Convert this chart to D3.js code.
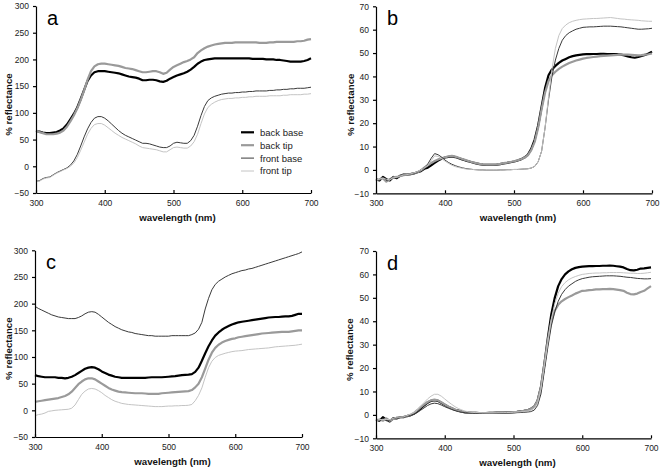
<!DOCTYPE html>
<html><head><meta charset="utf-8">
<script src="https://cdn.jsdelivr.net/npm/d3@7"></script>
<style>
html,body{margin:0;padding:0;background:#fff;}
svg{display:block;font-family:"Liberation Sans",Arial,sans-serif;}
</style></head>
<body>
<svg id="chart" width="662" height="471"></svg>
<script>
// wavelength grid (nm), 300..700 every 5 nm
const wavelengths = d3.range(300, 701, 5);
const xTicks = [300, 400, 500, 600, 700];
const seriesNames = ["back base", "back tip", "front base", "front tip"];

// panel a
const aBackBase = [66,65,63,62,62,63,64,67,71,78, 88,98,110,126,143,160,170,176,178,178, 178,177,176,175,174,172,170,168,167,166, 164,161,161,162,162,161,159,158,160,164, 167,170,172,174,177,181,186,192,196,199, 200,201,202,202,202,202,202,202,202,202, 202,202,202,201,201,201,201,200,200,200, 199,199,198,197,196,196,196,196,197,199, 202];
const aBackTip = [67,64,62,60,60,60,61,63,67,74, 84,95,108,124,142,162,178,187,191,192, 192,191,190,189,188,186,184,183,182,180, 178,176,176,177,178,178,176,173,175,181, 186,189,192,195,197,200,204,212,217,221, 224,226,228,229,230,231,231,231,232,232, 232,232,232,232,232,231,231,231,232,232, 233,233,233,233,233,233,234,234,235,237, 238];
const aFrontBase = [-28,-27,-23,-21,-20,-16,-12,-9,-6,-3, 2,10,22,38,55,70,82,90,93,93, 90,85,79,73,67,62,58,55,52,49, 46,43,43,42,40,38,36,35,35,38, 43,45,44,43,43,48,58,75,95,112, 123,128,131,133,135,136,137,137,138,138, 139,139,140,140,141,141,141,141,142,142, 143,143,144,144,145,145,146,146,146,147, 148];
const aFrontTip = [-28,-28,-24,-22,-21,-17,-13,-10,-7,-4, 0,6,16,30,45,60,71,78,80,80, 77,72,67,62,58,54,51,48,45,42, 38,35,34,33,32,31,29,27,27,31, 35,36,35,34,34,38,46,60,80,98, 110,116,120,123,125,126,127,127,128,128, 129,129,130,130,131,131,131,131,132,132, 132,132,133,133,134,134,134,134,135,135, 136];

// panel b
const bBackBase = [-4,-4.5,-3,-4,-4.5,-3,-3.5,-2.5,-2,-2, -1.8,-1.5,-1,-0.5,0.5,1,2,3,4,4.8, 5.3,5.6,5.8,5.5,5,4.5,4,3.6,3.2,2.8, 2.5,2.3,2.2,2.2,2.2,2.3,2.5,2.8,3,3.3, 3.6,4,4.5,5.3,6.5,9,13,19,27,35, 40.5,43,44.5,45.8,46.8,47.5,48.2,48.7,49,49.2, 49.4,49.5,49.5,49.6,49.6,49.7,49.7,49.6,49.6,49.5, 49.5,49.3,49,48.6,48.2,48,48.3,48.8,49.2,49.8, 50.6];
const bBackTip = [-4.5,-4,-3.5,-5,-4,-3.2,-3,-2.6,-2.2,-2, -1.8,-1.4,-1,-0.2,1,2,3,3.8,4.5,5, 5.4,5.8,6,5.7,5.2,4.7,4.2,3.7,3.3,2.9, 2.6,2.4,2.3,2.3,2.3,2.4,2.6,2.9,3.1,3.4, 3.7,4.1,4.6,5.2,6.2,8.5,12,18,26,33, 38,40.5,42,43.2,44.2,45,45.7,46.3,46.8,47.2, 47.6,47.9,48.1,48.3,48.5,48.7,48.8,48.9,49,49.1, 49.2,49.3,49.3,49.3,49.2,49.1,49,49.1,49.3,49.5, 49.8];
const bFrontBase = [-4,-4.5,-3,-4.5,-4,-3,-3.5,-2.5,-2.2,-2, -1.8,-1.5,-1,0,1,2.5,5,7,6.5,5.5, 4.2,3.2,2.4,1.8,1.3,0.9,0.6,0.4,0.2,0.1, 0,0,-0.1,-0.1,-0.1,-0.1,0,0,0.1,0.1, 0.2,0.2,0.3,0.4,0.5,0.8,1.5,3.5,8,18, 30,40,47,52,55.5,57.5,58.7,59.5,60.2,60.6, 61,61.1,61.2,61.2,61.3,61.4,61.5,61.5,61.5,61.4, 61.3,61.2,61,60.8,60.6,60.4,60.2,60.2,60.3,60.4, 60.6];
const bFrontTip = [-4.2,-4,-3.5,-4,-4.2,-3.2,-3.2,-2.6,-2.2,-2, -1.7,-1.3,-0.8,0,1,2,4,6,5.8,4.8, 3.8,2.8,2,1.4,1,0.7,0.4,0.3,0.2,0.1, 0,0,-0.1,-0.1,-0.1,-0.1,0,0,0.1,0.1, 0.2,0.2,0.3,0.4,0.5,0.8,1.5,3.5,8,18, 31,43,52,57.5,60.5,62,63,63.6,64,64.3, 64.5,64.6,64.7,64.8,64.8,64.9,65,65.1,65.2,65, 64.8,64.6,64.5,64.3,64.2,64.1,64,63.8,63.7,63.6, 63.6];

// panel c
const cBackBase = [66,64,63,62,62,62,62,61,61,60, 61,63,66,70,74,78,80,81,80,77, 73,70,67,65,63,62,61,61,61,61, 61,61,61,61,61.5,62,62,62,62,62.5, 63,63.5,64,65,66,66.5,67,68,72,80, 93,107,120,131,140,146,151,155,158,161, 163,165,166,167,168,169,170,171,172,173, 174,174.5,175,175,175.5,176,176,177,179,181, 181];
const cBackTip = [16,17,18,19,20,21,22,23,25,27, 30,35,42,49,54,58,60,60,58,54, 50,46,42,39,37,35,34,33.5,33,32.5, 32,32,32,31.5,31,31,31,31,32,32.5, 33,33.5,34,34.5,35,35.5,36,38,43,50, 62,78,95,108,117,123,127,130,132,134, 135,137,138,139,140,141,142,143,144,144.5, 145,145.5,146,146.5,147,147,147,148,149,150, 150];
const cFrontBase = [195,191,188,185,182,179,177,175,174,173, 172,172,172,174,177,181,184,185,184,180, 175,170,165,161,157,154,151,149,147,146, 144,143,142,141,140,140,139,139,139,139, 139,140,140,140,140,140,140,142,145,152, 165,190,210,226,236,242,246,250,253,256, 258,260,262,263,265,266,268,270,272,274, 276,278,280,282,284,286,288,290,292,294, 297];
const cFrontTip = [-10,-8,-7,-5,-2,-1,0,0.5,1,1.5, 2,4,10,20,30,36,40,41,40,37, 33,28,24,20,17,15,13,12,11,10.5, 10,9.5,9,8.5,8,7.5,7,7,7,7.5, 8,8,8.5,8.5,9,9,9.5,11,18,28, 42,62,80,92,99,103,105,107,108.5,110, 111,111.5,112,113,114,114.5,115,115.5,116,116.5, 117,118,119,119.5,120,120.5,121,121.5,122,123, 124];

// panel d
const dBackBase = [-2,-2.5,-1,-2,-2.8,-1.5,-1.5,-1,-1,-0.5, -0.2,0.5,1.5,2.8,4,5.2,6,6.3,6,5.2, 4.3,3.5,2.8,2.2,1.8,1.4,1.1,1,0.9,0.85, 0.8,0.8,0.8,0.85,0.9,0.95,1,1,1.1,1.1, 1.2,1.3,1.5,1.7,2,2.5,3.5,6,12,22, 33,43,50,55,58,60,61.3,62.2,62.8,63.1, 63.3,63.4,63.5,63.5,63.6,63.6,63.7,63.7,63.8,63.7, 63.5,63.3,63,62.3,61.8,61.7,62,62.5,62.6,62.8, 63];
const dBackTip = [-2.5,-2,-2.5,-1.5,-2.5,-1.8,-1.2,-1,-0.8,-0.5, 0,0.8,2,3.3,4.5,5.5,6.2,6.5,6.2,5.4, 4.5,3.6,2.9,2.3,1.8,1.4,1.1,1,0.9,0.85, 0.8,0.8,0.8,0.85,0.9,0.95,1,1,1.1,1.1, 1.2,1.3,1.5,1.7,2,2.5,3.5,6,12,22, 32,40,44.5,47,48.5,49.5,50.3,51,51.8,52.4, 53,53.1,53.3,53.4,53.6,53.6,53.7,53.7,53.8,53.7, 53.5,53.3,53,52.2,51.6,51.5,51.8,52.5,53,54, 55];
const dFrontBase = [-2,-2.8,-1.5,-2.5,-2.2,-1.5,-1.2,-1,-0.8,-0.5, -0.2,0.3,1,2,3,4,4.7,5,4.8,4.2, 3.5,2.9,2.3,1.8,1.4,1.1,0.9,0.8,0.7,0.65, 0.6,0.6,0.6,0.6,0.6,0.65,0.7,0.75,0.8,0.85, 0.9,0.95,1,1.1,1.2,1.4,2,4,9,19, 29,38,44,48.5,51.5,53.5,55,56,57,57.7, 58.2,58.5,58.8,59,59.1,59.2,59.3,59.4,59.4,59.4, 59.3,59.2,59,58.8,58.7,58.5,58.3,58.2,58.1,58.1, 58.2];
const dFrontTip = [-2.5,-2,-2,-2,-2,-1.5,-1,-1,-0.8,-0.3, 0.2,1,2.2,3.8,5.3,6.8,8,8.8,8.8,8, 6.8,5.6,4.5,3.5,2.7,2.1,1.6,1.3,1.1,1, 0.9,0.85,0.8,0.8,0.8,0.85,0.9,0.95,1,1.05, 1.1,1.2,1.3,1.45,1.6,2,2.8,5,11,21, 31,41,47.5,52,54.8,56.5,57.7,58.5,59.1,59.6, 60,60.2,60.4,60.5,60.6,60.6,60.7,60.7,60.8,60.8, 60.8,60.8,60.7,60.6,60.5,60.5,60.4,60.4,60.5,60.7, 60.9];

const yTicksAC = [-50, 0, 50, 100, 150, 200, 250, 300];
const yTicksBD = [-10, 0, 10, 20, 30, 40, 50, 60, 70];

// styles per series
const styles = [
  {color: "#000000", width: 2.2},
  {color: "#9a9a9a", width: 2.2},
  {color: "#3a3a3a", width: 1},
  {color: "#c4c4c4", width: 1}
];

const panels = [
  {letter: "a", x0: 36, x1: 311, y0: 6, y1: 193, dom: [-50, 300], ticks: yTicksAC,
   series: [aBackBase, aBackTip, aFrontBase, aFrontTip], legend: true, ytx: 12},
  {letter: "b", x0: 376, x1: 652, y0: 6.3, y1: 193.3, dom: [-10, 70], ticks: yTicksBD,
   series: [bBackBase, bBackTip, bFrontBase, bFrontTip], legend: false, ytx: 354},
  {letter: "c", x0: 35, x1: 302, y0: 250.3, y1: 437, dom: [-50, 300], ticks: yTicksAC,
   series: [cBackBase, cBackTip, cFrontBase, cFrontTip], legend: false, ytx: 12},
  {letter: "d", x0: 376, x1: 651, y0: 251, y1: 438.3, dom: [-10, 70], ticks: yTicksBD,
   series: [dBackBase, dBackTip, dFrontBase, dFrontTip], legend: false, ytx: 353}
];

const svg = d3.select("#chart");

panels.forEach(p => {
  const x = d3.scaleLinear().domain([300, 700]).range([p.x0, p.x1]);
  const y = d3.scaleLinear().domain(p.dom).range([p.y1, p.y0]);
  const g = svg.append("g");

  const line = d3.line().x(d => x(d[0])).y(d => y(d[1]));
  p.series.forEach((vals, i) => {
    const pts = wavelengths.map((w, k) => [w, vals[k]]);
    g.append("path").datum(pts)
      .attr("d", line)
      .attr("fill", "none")
      .attr("stroke", styles[i].color)
      .attr("stroke-width", styles[i].width)
      .attr("stroke-linejoin", "round");
  });

  const xa = g.append("g").attr("transform", `translate(0,${p.y1})`)
    .call(d3.axisBottom(x).tickValues(xTicks).tickSizeInner(-3).tickSizeOuter(0).tickPadding(7));
  const ya = g.append("g").attr("transform", `translate(${p.x0},0)`)
    .call(d3.axisLeft(y).tickValues(p.ticks).tickSize(3).tickSizeOuter(0).tickPadding(4));
  [xa, ya].forEach(a => {
    a.selectAll("path,line").attr("stroke", "#000").attr("stroke-width", 1.2);
    a.selectAll("text").attr("fill", "#222").style("font-size", "8.5px")
      .style("font-family", "'Liberation Sans', Arial, sans-serif");
  });

  g.append("text")
    .attr("x", (p.x0 + p.x1) / 2 + 4).attr("y", p.y1 + 28)
    .attr("text-anchor", "middle")
    .style("font-size", "9.7px").style("font-weight", "bold").attr("fill", "#111")
    .text("wavelength (nm)");

  g.append("text")
    .attr("transform", `translate(${p.ytx},${(p.y0 + p.y1) / 2 + 5}) rotate(-90)`)
    .attr("text-anchor", "middle")
    .style("font-size", "9.7px").style("font-weight", "bold").attr("fill", "#111")
    .text("% reflectance");

  g.append("text")
    .attr("x", p.x0 + 11).attr("y", p.y0 + 19)
    .style("font-size", "20px").attr("fill", "#000")
    .text(p.letter);

  if (p.legend) {
    const lg = g.append("g");
    seriesNames.forEach((name, i) => {
      const yy = 132.3 + i * 12.9;
      lg.append("line").attr("x1", 241).attr("x2", 254).attr("y1", yy).attr("y2", yy)
        .attr("stroke", styles[i].color).attr("stroke-width", styles[i].width);
      lg.append("text").attr("x", 260).attr("y", yy + 3.4)
        .style("font-size", "9.5px").attr("fill", "#222").text(name);
    });
  }
});
</script>
</body></html>
